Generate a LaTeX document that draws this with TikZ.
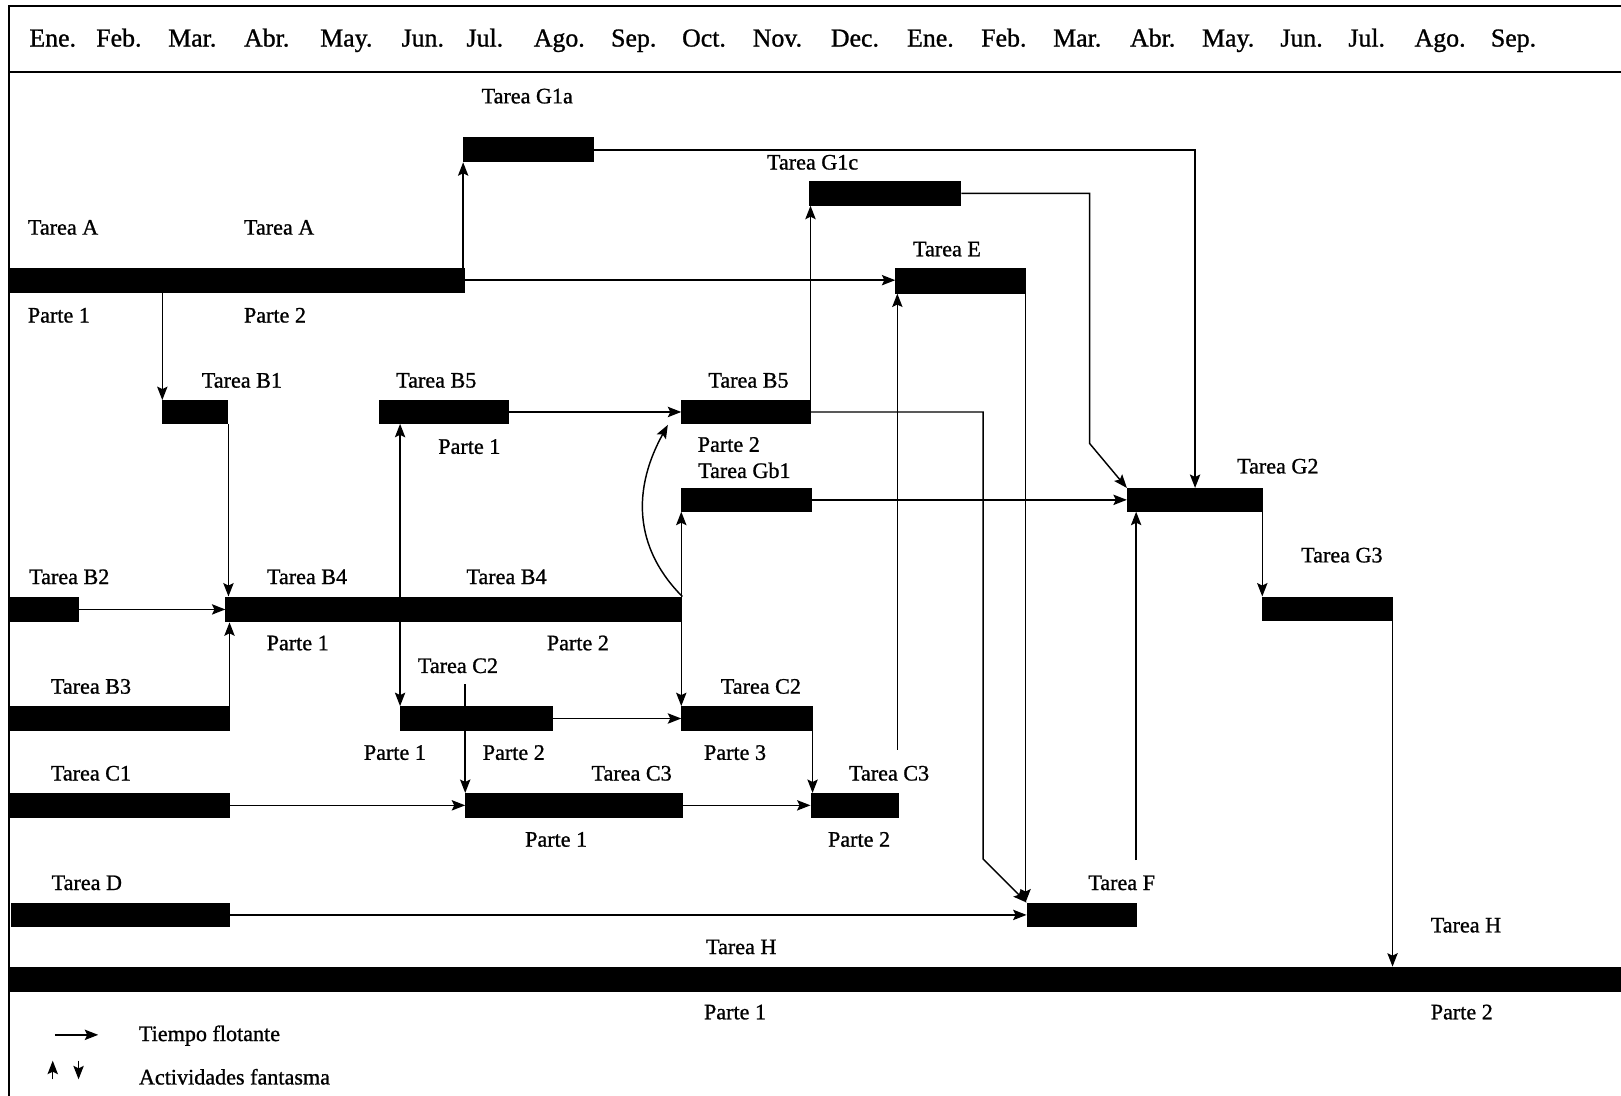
\documentclass[tikz,border=0pt]{standalone}
\usepackage{fontspec}
\setmainfont[FakeBold=1]{Liberation Serif}
\usetikzlibrary{fit,arrows.meta}
\tikzset{
  bar/.style={fill=black, draw=none, inner sep=0pt, outer sep=0pt},
  lab/.style={font=\fontsize{10.7}{12}\selectfont, inner sep=0pt},
  mon/.style={font=\fontsize{12.5}{14}\selectfont, inner sep=0pt, anchor=base},
  arr/.style={line width=0.7pt, -{Stealth[length=6.5pt,width=5pt,inset=1.2pt]}},
  both/.style={line width=0.7pt, {Stealth[length=6.5pt,width=5pt,inset=1.2pt]}-{Stealth[length=6.5pt,width=5pt,inset=1.2pt]}},
  frame/.style={line width=1pt}
}
\begin{document}
\begin{tikzpicture}[x=0.5pt, y=-0.5pt]
\useasboundingbox (0,0) rectangle (1568,1060);
% frame
\draw[frame] (1568,6) -- (9,6) -- (9,1060);
\draw[frame] (9,70) -- (1568,70);
% months
\node[mon] (m1) at (51,45) {Ene.};
\node[mon] (m2) at (115,45) {Feb.};
\node[mon] (m3) at (186,45) {Mar.};
\node[mon] (m4) at (258,45) {Abr.};
\node[mon] (m5) at (335,45) {May.};
\node[mon] (m6) at (409,45) {Jun.};
\node[mon] (m7) at (469,45) {Jul.};
\node[mon] (m8) at (541,45) {Ago.};
\node[mon] (m9) at (613,45) {Sep.};
\node[mon] (m10) at (681,45) {Oct.};
\node[mon] (m11) at (752,45) {Nov.};
\node[mon] (m12) at (827,45) {Dec.};
\node[mon] (m13) at (900,45) {Ene.};
\node[mon] (m14) at (971,45) {Feb.};
\node[mon] (m15) at (1042,45) {Mar.};
\node[mon] (m16) at (1115,45) {Abr.};
\node[mon] (m17) at (1188,45) {May.};
\node[mon] (m18) at (1259,45) {Jun.};
\node[mon] (m19) at (1322,45) {Jul.};
\node[mon] (m20) at (1393,45) {Ago.};
\node[mon] (m21) at (1464,45) {Sep.};
% bars
\node[bar, fit={(10,259) (450,283)}] (A) {};
\node[bar, fit={(448,133) (575,157)}] (G1a) {};
\node[bar, fit={(783,175) (930,199)}] (G1c) {};
\node[bar, fit={(866,259) (992,284)}] (E) {};
\node[bar, fit={(157,387) (221,410)}] (B1) {};
\node[bar, fit={(367,387) (492,410)}] (B5a) {};
\node[bar, fit={(659,387) (784,410)}] (B5b) {};
\node[bar, fit={(659,472) (785,495)}] (Gb1) {};
\node[bar, fit={(1090,472) (1222,495)}] (G2) {};
\node[bar, fit={(1221,577) (1347,601)}] (G3) {};
\node[bar, fit={(10,577) (76,602)}] (B2) {};
\node[bar, fit={(218,577) (660,602)}] (B4) {};
\node[bar, fit={(10,683) (222,707)}] (B3) {};
\node[bar, fit={(387,683) (535,707)}] (C2a) {};
\node[bar, fit={(659,683) (786,707)}] (C2b) {};
\node[bar, fit={(10,767) (222,791)}] (C1) {};
\node[bar, fit={(450,767) (661,791)}] (C3a) {};
\node[bar, fit={(784,767) (870,791)}] (C3b) {};
\node[bar, fit={(11,873) (222,897)}] (D) {};
\node[bar, fit={(993,873) (1100,897)}] (F) {};
\node[bar, fit={(8,935) (1568,960)}] (H) {};
% labels
\node[lab] (l1) at (510,93) {Tarea G1a};
\node[lab] (l2) at (61,220) {Tarea A};
\node[lab] (l3) at (270,220) {Tarea A};
\node[lab] (l4) at (57,305) {Parte 1};
\node[lab] (l5) at (266,305) {Parte 2};
\node[lab] (l6) at (786,157) {Tarea G1c};
\node[lab] (l7) at (916,241) {Tarea E};
\node[lab] (l8) at (234,368) {Tarea B1};
\node[lab] (l9) at (422,368) {Tarea B5};
\node[lab] (l10) at (454,432) {Parte 1};
\node[lab] (l11) at (724,368) {Tarea B5};
\node[lab] (l12) at (705,430) {Parte 2};
\node[lab] (l13) at (720,455) {Tarea Gb1};
\node[lab] (l14) at (1236,451) {Tarea G2};
\node[lab] (l15) at (1298,537) {Tarea G3};
\node[lab] (l16) at (67,558) {Tarea B2};
\node[lab] (l17) at (297,558) {Tarea B4};
\node[lab] (l18) at (490,558) {Tarea B4};
\node[lab] (l19) at (288,622) {Parte 1};
\node[lab] (l20) at (559,622) {Parte 2};
\node[lab] (l21) at (443,644) {Tarea C2};
\node[lab] (l22) at (88,664) {Tarea B3};
\node[lab] (l23) at (736,664) {Tarea C2};
\node[lab] (l24) at (382,728) {Parte 1};
\node[lab] (l25) at (497,728) {Parte 2};
\node[lab] (l26) at (711,728) {Parte 3};
\node[lab] (l27) at (88,748) {Tarea C1};
\node[lab] (l28) at (611,748) {Tarea C3};
\node[lab] (l29) at (860,748) {Tarea C3};
\node[lab] (l30) at (538,812) {Parte 1};
\node[lab] (l31) at (831,812) {Parte 2};
\node[lab] (l32) at (84,854) {Tarea D};
\node[lab] (l33) at (1085,854) {Tarea F};
\node[lab] (l34) at (717,916) {Tarea H};
\node[lab] (l35) at (1418,895) {Tarea H};
\node[lab] (l36) at (711,979) {Parte 1};
\node[lab] (l37) at (1414,979) {Parte 2};
\node[lab, anchor=base west] (l38) at (134,1007) {Tiempo flotante};
\node[lab, anchor=base west] (l39) at (134,1049) {Actividades fantasma};
% helper coordinates
\coordinate (e1) at (1054,429);
\coordinate (q1) at (951,831);
\coordinate (r1) at (868,725);
\coordinate (s1) at (450,662);
\coordinate (y1) at (1099,832);
\coordinate (c1) at (646,411);
% connectors
\draw[arr] (G1a.south west |- A.north) -- (G1a.south west);
\draw[arr] (A.east) -- (A.east -| E.west);
\draw[arr] (B1.north west |- A.south) -- (B1.north west);
\draw[arr] (G1a.east) -| (G2.north);
\draw[arr] (G1c.east) -| (e1) -- (G2.north west);
\draw[arr] (E.south east) -- (E.south east |- F.north);
\draw[arr] (B1.south east) -- (B1.south east |- B4.north);
\draw[arr] (B2.east) -- (B4.west);
\draw[arr] (B3.north east) -- (B3.north east |- B4.south);
\draw[both] (C2a.north west |- B5a.south) -- (C2a.north west);
\draw[arr] (B5a.east) -- (B5b.west);
\draw[arr] (B4.north east) .. controls (618,535) and (608,480) .. (c1);
\draw[arr] (Gb1.south west |- B4.north) -- (Gb1.south west);
\draw[arr] (C2b.north west |- B4.south) -- (C2b.north west);
\draw[arr] (Gb1.east) -- (G2.west);
\draw[arr] (B5b.north east) -- (B5b.north east |- G1c.south);
\draw[arr] (B5b.east) -| (q1) -- (F.north west);
\draw[arr] (r1) -- (r1 |- E.south);
\draw[arr] (s1) -- (s1 |- C3a.north);
\draw[arr] (C2a.east) -- (C2b.west);
\draw[arr] (C1.east) -- (C3a.west);
\draw[arr] (C3a.east) -- (C3b.west);
\draw[arr] (C2b.south east) -- (C2b.south east |- C3b.north);
\draw[arr] (D.east) -- (F.west);
\draw[arr] (y1) -- (y1 |- G2.south);
\draw[arr] (G3.north west |- G2.south) -- (G3.north west);
\draw[arr] (G3.south east) -- (G3.south east |- H.north);
% legend
\coordinate (lg1) at (53,1001);
\coordinate (lg2) at (95,1001);
\coordinate (lg3) at (51,1044);
\coordinate (lg4) at (51,1026);
\coordinate (lg5) at (76,1026);
\coordinate (lg6) at (76,1044);
\draw[arr] (lg1) -- (lg2);
\draw[arr] (lg3) -- (lg4);
\draw[arr] (lg5) -- (lg6);
\end{tikzpicture}
\end{document}
